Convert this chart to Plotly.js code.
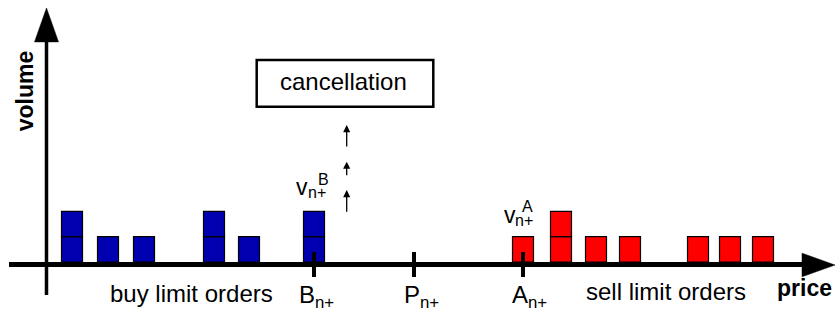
<!DOCTYPE html>
<html>
<head>
<meta charset="utf-8">
<script src="https://cdn.plot.ly/plotly-3.0.1.min.js"></script>
<style>html,body{margin:0;padding:0;background:#fff;}#chart{width:838px;height:310px;}</style>
</head>
<body>
<div id="chart"></div>
<script>
// ---- data (price in arbitrary units, volume in order units) ----
var buyPrices   = [7.2, 10.8, 14.4, 21.4, 24.9, 31.4];
var buyVolumes  = [2, 1, 1, 2, 1, 2];
var sellPrices  = [52.3, 56.1, 59.6, 63.0, 69.8, 73.0, 76.3];
var sellVolumes = [1, 2, 1, 1, 1, 1, 1];
var markerNames  = ['B', 'P', 'A'];
var markerPrices = [31.4, 41.4, 52.3];

var FONT = 'Liberation Sans, Arial, Helvetica, sans-serif';
var BLUE = '#0000b0', RED = '#ff0000';

function unitTraces(prices, vols, color) {
  var maxV = Math.max.apply(null, vols), out = [];
  for (var k = 1; k <= maxV; k++) {
    var xs = [];
    prices.forEach(function (p, i) { if (vols[i] >= k) xs.push(p); });
    out.push({
      type: 'bar', x: xs, y: xs.map(function () { return 1; }),
      base: xs.map(function () { return k - 1; }),
      width: 2.1,
      marker: {color: color, line: {color: '#000', width: 1.2}},
      hoverinfo: 'skip', showlegend: false
    });
  }
  return out;
}
var traces = unitTraces(buyPrices, buyVolumes, BLUE).concat(unitTraces(sellPrices, sellVolumes, RED));

var shapes = [
  // price axis
  {type: 'line', xref: 'x', yref: 'y', x0: 0.9, x1: 80.6, y0: -0.099, y1: -0.099, line: {color: '#000', width: 5}},
  {type: 'path', xref: 'x', yref: 'y', path: 'M 80.2,0.35 L 83.5,-0.119 L 80.2,-0.585 Z', fillcolor: '#000', line: {color: '#000', width: 0.5}},
  // volume axis
  {type: 'line', xref: 'x', yref: 'y', x0: 4.65, x1: 4.65, y0: -1.304, y1: 8.8, line: {color: '#000', width: 3.5}},
  {type: 'path', xref: 'x', yref: 'y', path: 'M 3.45,8.7 L 4.65,10.04 L 5.85,8.7 Z', fillcolor: '#000', line: {color: '#000', width: 0.5}},
  // cancellation box
  {type: 'rect', xref: 'x', yref: 'y', x0: 25.67, x1: 43.33, y0: 6.14, y1: 7.98, line: {color: '#000', width: 2.5}, fillcolor: 'rgba(0,0,0,0)'}
];
markerPrices.forEach(function (p) {
  shapes.push({type: 'line', xref: 'x', yref: 'y', x0: p, x1: p, y0: 0.395, y1: -0.593, line: {color: '#000', width: 4}});
});

var labelCenters = [31.67, 42.18, 52.94];
var annotations = [
  {text: 'volume', x: 2.53, y: 6.76, textangle: -90, font: {family: FONT, size: 23, color: '#000', weight: 'bold'}},
  {text: 'price', x: 80.48, y: -1.028, font: {family: FONT, size: 23, color: '#000', weight: 'bold'}},
  {text: 'buy limit orders', x: 19.15, y: -1.253, font: {family: FONT, size: 24, color: '#000'}},
  {text: 'sell limit orders', x: 66.55, y: -1.15, font: {family: FONT, size: 24, color: '#000'}},
  {text: 'cancellation', x: 34.3, y: 7.131, font: {family: FONT, size: 24, color: '#000'}},
  // v labels
  {text: 'v', x: 30.19, y: 2.964, font: {family: FONT, size: 23, color: '#000'}},
  {text: 'n+', x: 31.7, y: 2.739, font: {family: FONT, size: 16, color: '#000'}},
  {text: 'B', x: 32.38, y: 3.265, font: {family: FONT, size: 16, color: '#000'}},
  {text: 'v', x: 51.0, y: 1.877, font: {family: FONT, size: 23, color: '#000'}},
  {text: 'n+', x: 52.37, y: 1.644, font: {family: FONT, size: 16, color: '#000'}},
  {text: 'A', x: 52.7, y: 2.209, font: {family: FONT, size: 16, color: '#000'}}
];
markerNames.forEach(function (n, i) {
  annotations.push({text: n + '<sub>n+</sub>', x: labelCenters[i], y: -1.344, font: {family: FONT, size: 24, color: '#000'}});
});
// cancellation arrows
[[5.415, 4.506], [3.964, 3.372], [2.846, 1.925]].forEach(function (a) {
  annotations.push({x: 34.67, y: a[0], ax: 34.67, ay: a[1], axref: 'x', ayref: 'y', text: '',
    showarrow: true, arrowhead: 2, arrowsize: 1.1, arrowwidth: 1.3, arrowcolor: '#000', standoff: 0, startstandoff: 0});
});
annotations.forEach(function (a) {
  a.xref = 'x'; a.yref = 'y';
  if (!a.showarrow) { a.showarrow = false; a.xanchor = 'center'; a.yanchor = 'middle'; }
});

var layout = {
  width: 838, height: 310,
  margin: {l: 0, r: 0, t: 0, b: 0},
  paper_bgcolor: '#fff', plot_bgcolor: '#fff',
  barmode: 'overlay',
  xaxis: {range: [0, 83.8], visible: false, fixedrange: true},
  yaxis: {range: [-1.897, 10.356], visible: false, fixedrange: true},
  shapes: shapes, annotations: annotations, showlegend: false
};
Plotly.newPlot('chart', traces, layout, {staticPlot: true, displayModeBar: false});
</script>
</body>
</html>
